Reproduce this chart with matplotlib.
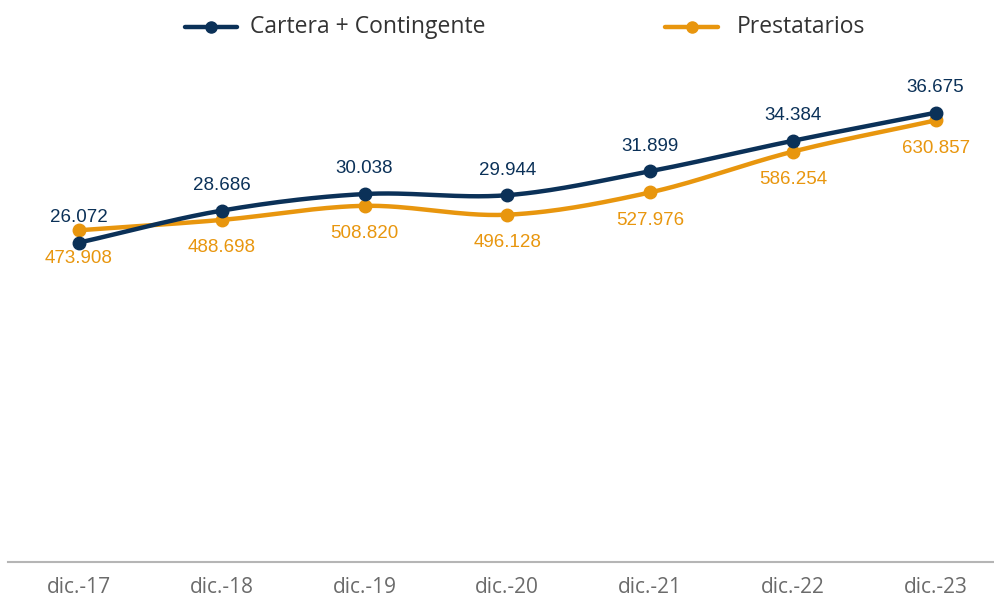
import numpy as np
import matplotlib
matplotlib.use("Agg")
import matplotlib.pyplot as plt
from matplotlib.lines import Line2D

categories = ["dic.-17", "dic.-18", "dic.-19", "dic.-20", "dic.-21", "dic.-22", "dic.-23"]
cartera = [26.072, 28.686, 30.038, 29.944, 31.899, 34.384, 36.675]
prestatarios = [473.908, 488.698, 508.820, 496.128, 527.976, 586.254, 630.857]
cartera_labels = ["26.072", "28.686", "30.038", "29.944", "31.899", "34.384", "36.675"]
prest_labels = ["473.908", "488.698", "508.820", "496.128", "527.976", "586.254", "630.857"]
series_names = ["Cartera + Contingente", "Prestatarios"]

NAVY = "#0b3158"
ORANGE = "#e8960e"
W, H = 994, 598


def smooth(x, y, n=30, t=0.5):
    # Cardinal (Catmull-Rom) spline, for drawing the line only
    x = np.asarray(x, float); y = np.asarray(y, float)
    xs, ys = [], []
    for i in range(len(x) - 1):
        x0, y0 = (x[i - 1], y[i - 1]) if i > 0 else (x[i], y[i])
        x3, y3 = (x[i + 2], y[i + 2]) if i + 2 < len(x) else (x[i + 1], y[i + 1])
        x1, y1, x2, y2 = x[i], y[i], x[i + 1], y[i + 1]
        m1 = 2 * t * (y2 - y0) / (x2 - x0)
        m2 = 2 * t * (y3 - y1) / (x3 - x1)
        s = np.linspace(0, 1, n, endpoint=False)
        h00 = 2 * s**3 - 3 * s**2 + 1
        h10 = s**3 - 2 * s**2 + s
        h01 = -2 * s**3 + 3 * s**2
        h11 = s**3 - s**2
        dx = x2 - x1
        xs.append(x1 + s * dx)
        ys.append(h00 * y1 + h10 * dx * m1 + h01 * y2 + h11 * dx * m2)
    xs.append([x[-1]]); ys.append([y[-1]])
    return np.concatenate(xs), np.concatenate(ys)


fig = plt.figure(figsize=(W / 100, H / 100), dpi=100)
ax = fig.add_axes([7.6 / W, (H - 562) / H, (1007 - 7.6) / W, (562 - 72) / H])
ax2 = ax.twinx()

x = np.arange(len(categories))
sx, sy = smooth(x, cartera)
px, py = smooth(x, prestatarios)

ax2.plot(px, py, color=ORANGE, lw=3.2, solid_capstyle="round", zorder=2)
ax2.plot(x, prestatarios, "o", color=ORANGE, ms=9, zorder=3)
ax.plot(sx, sy, color=NAVY, lw=3.2, solid_capstyle="round", zorder=2)
ax.plot(x, cartera, "o", color=NAVY, ms=9, zorder=3)
ax.set_zorder(ax2.get_zorder() + 1)
ax.patch.set_visible(False)

ax.set_ylim(0, 40)
ax2.set_ylim(0, 700)
ax.set_xlim(-0.5, 6.5)

lab_font = dict(family=["Liberation Sans", "DejaVu Sans"], fontsize=13.5)
for xi, v, s in zip(x, cartera, cartera_labels):
    ax.annotate(s, (xi, v), xytext=(0, 12), textcoords="offset points",
                ha="center", va="bottom", color=NAVY, **lab_font)
for xi, v, s in zip(x, prestatarios, prest_labels):
    ax2.annotate(s, (xi, v), xytext=(0, -14), textcoords="offset points",
                 ha="center", va="top", color=ORANGE, **lab_font)

for a in (ax, ax2):
    for sp in a.spines.values():
        sp.set_visible(False)
    a.set_yticks([])
ax.spines["bottom"].set_visible(True)
ax.spines["bottom"].set_color("#b5b5b5")
ax.spines["bottom"].set_linewidth(1.5)
ax.set_xticks(x)
ax.set_xticklabels(categories, fontsize=15, color="#6b6b6b", family=["Open Sans", "DejaVu Sans"])
ax.tick_params(axis="x", length=0, pad=11)

# legend drawn in figure pixel coordinates
leg_y = 1 - 27 / H
leg_font = dict(family=["Open Sans", "DejaVu Sans"], fontsize=16.5, color="#333333")
for (x0, x1, tx), col, name in zip([(185, 237, 250), (665, 718, 737)], [NAVY, ORANGE], series_names):
    fig.add_artist(Line2D([x0 / W, x1 / W], [leg_y, leg_y], color=col, lw=3.2,
                          solid_capstyle="round", transform=fig.transFigure))
    fig.add_artist(Line2D([(x0 + x1) / 2 / W], [leg_y], color=col, marker="o", ms=8,
                          transform=fig.transFigure))
    fig.text(tx / W, leg_y, name, ha="left", va="center", **leg_font)

fig.savefig("out.png", dpi=100)
